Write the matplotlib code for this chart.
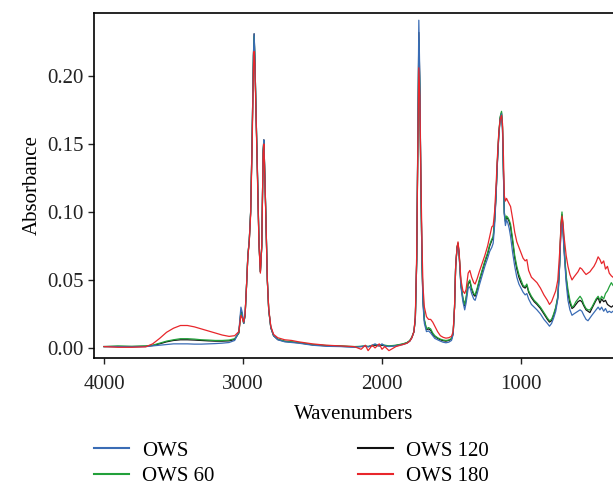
import matplotlib
matplotlib.use("Agg")
import matplotlib.pyplot as plt
from matplotlib.lines import Line2D

# FTIR spectra: wavenumber (cm^-1) and absorbance of each sample
wavenumber = [
    4000, 3900, 3800, 3700, 3650, 3600, 3550, 3500, 3450, 3400,
    3350, 3300, 3250, 3200, 3150, 3100, 3060, 3030, 3015, 3005,
    2995, 2985, 2975, 2965, 2955, 2945, 2935, 2925, 2920, 2915,
    2905, 2895, 2885, 2875, 2865, 2855, 2850, 2845, 2835, 2825,
    2815, 2800, 2780, 2750, 2700, 2650, 2600, 2500, 2400, 2300,
    2200, 2150, 2120, 2100, 2070, 2050, 2020, 2000, 1980, 1950,
    1900, 1850, 1820, 1800, 1785, 1770, 1760, 1750, 1742, 1735,
    1728, 1720, 1712, 1705, 1695, 1680, 1665, 1650, 1635, 1620,
    1600, 1580, 1560, 1540, 1520, 1500, 1488, 1478, 1470, 1460,
    1453, 1445, 1432, 1418, 1405, 1395, 1380, 1368, 1355, 1340,
    1330, 1315, 1300, 1280, 1260, 1240, 1225, 1210, 1200, 1190,
    1180, 1170, 1160, 1150, 1140, 1133, 1126, 1120, 1112, 1104,
    1095, 1085, 1075, 1060, 1045, 1030, 1015, 1000, 985, 970,
    958, 945, 925, 905, 885, 860, 835, 810, 795, 780,
    765, 750, 735, 722, 712, 705, 698, 688, 675, 662,
    648, 633, 620, 605, 590, 575, 562, 548, 532, 518,
    504, 490, 475, 460, 445, 432, 420, 405, 392, 378,
    365, 350, 338,
]

ows = [
    0.001, 0.001, 0.0008, 0.001, 0.0015, 0.002, 0.0025, 0.003, 0.003, 0.003,
    0.0028, 0.0028, 0.003, 0.0032, 0.0035, 0.004, 0.0055, 0.012, 0.030, 0.026,
    0.018, 0.024, 0.045, 0.068, 0.079, 0.100, 0.150, 0.215, 0.231, 0.215,
    0.168, 0.125, 0.077, 0.056, 0.075, 0.145, 0.153, 0.135, 0.095, 0.050,
    0.028, 0.015, 0.009, 0.006, 0.0045, 0.004, 0.0035, 0.002, 0.0012, 0.001,
    0.0005, 0.001, 0.0015, 0.0008, 0.002, 0.003, 0.0015, 0.003, 0.0015, 0.001,
    0.0015, 0.0025, 0.0035, 0.005, 0.0075, 0.012, 0.022, 0.065, 0.160, 0.241,
    0.200, 0.120, 0.062, 0.032, 0.018, 0.012, 0.0125, 0.011, 0.009, 0.007,
    0.006, 0.005, 0.0042, 0.0038, 0.0042, 0.0055, 0.010, 0.030, 0.060, 0.073,
    0.076, 0.068, 0.045, 0.034, 0.028, 0.033, 0.044, 0.045, 0.040, 0.036,
    0.035, 0.040, 0.046, 0.053, 0.060, 0.066, 0.071, 0.074, 0.077, 0.090,
    0.110, 0.135, 0.155, 0.168, 0.172, 0.160, 0.125, 0.098, 0.090, 0.094,
    0.092, 0.088, 0.082, 0.070, 0.060, 0.052, 0.047, 0.044, 0.041, 0.039,
    0.040, 0.036, 0.032, 0.030, 0.028, 0.025, 0.021, 0.018, 0.016, 0.018,
    0.022, 0.027, 0.036, 0.060, 0.088, 0.094, 0.085, 0.068, 0.048, 0.035,
    0.028, 0.024, 0.025, 0.026, 0.027, 0.028, 0.027, 0.024, 0.021, 0.020,
    0.022, 0.024, 0.026, 0.028, 0.030, 0.028, 0.030, 0.027, 0.029, 0.026,
    0.027, 0.026, 0.027,
]

ows_60 = [
    0.001, 0.0015, 0.0012, 0.0015, 0.002, 0.0035, 0.005, 0.006, 0.0068, 0.0068,
    0.0065, 0.006, 0.0058, 0.0055, 0.0055, 0.0058, 0.0068, 0.011, 0.026, 0.023,
    0.018, 0.024, 0.045, 0.068, 0.079, 0.100, 0.150, 0.214, 0.229, 0.214,
    0.168, 0.125, 0.077, 0.056, 0.075, 0.145, 0.152, 0.135, 0.095, 0.050,
    0.028, 0.015, 0.009, 0.0065, 0.005, 0.0045, 0.004, 0.0025, 0.0018, 0.0015,
    0.001, 0.0012, 0.0015, 0.001, 0.002, 0.0025, 0.002, 0.0025, 0.002, 0.0015,
    0.002, 0.003, 0.004, 0.0055, 0.008, 0.012, 0.022, 0.065, 0.155, 0.225,
    0.190, 0.115, 0.062, 0.036, 0.021, 0.014, 0.015, 0.014, 0.011, 0.009,
    0.0075, 0.0065, 0.0058, 0.0055, 0.0058, 0.007, 0.011, 0.030, 0.060, 0.074,
    0.077, 0.069, 0.047, 0.037, 0.032, 0.037, 0.048, 0.050, 0.044, 0.040,
    0.039, 0.044, 0.050, 0.057, 0.064, 0.070, 0.076, 0.080, 0.082, 0.094,
    0.112, 0.137, 0.157, 0.170, 0.174, 0.163, 0.128, 0.100, 0.094, 0.097,
    0.096, 0.094, 0.091, 0.080, 0.068, 0.060, 0.054, 0.050, 0.046, 0.045,
    0.047, 0.042, 0.038, 0.035, 0.033, 0.030, 0.026, 0.022, 0.020, 0.021,
    0.025, 0.030, 0.038, 0.062, 0.092, 0.100, 0.090, 0.072, 0.053, 0.043,
    0.035, 0.030, 0.031, 0.034, 0.036, 0.038, 0.036, 0.032, 0.029, 0.028,
    0.028, 0.030, 0.033, 0.036, 0.038, 0.035, 0.038, 0.036, 0.040, 0.042,
    0.045, 0.048, 0.046,
]

ows_120 = [
    0.001, 0.001, 0.001, 0.0012, 0.0018, 0.003, 0.0045, 0.0055, 0.006, 0.006,
    0.0058, 0.0055, 0.0052, 0.005, 0.005, 0.0052, 0.0062, 0.011, 0.027, 0.024,
    0.018, 0.024, 0.045, 0.068, 0.079, 0.100, 0.150, 0.215, 0.231, 0.215,
    0.168, 0.125, 0.077, 0.056, 0.075, 0.145, 0.153, 0.135, 0.095, 0.050,
    0.028, 0.015, 0.009, 0.0062, 0.0048, 0.0043, 0.0038, 0.0023, 0.0016, 0.0012,
    0.0008, 0.001, 0.0012, 0.001, 0.0015, 0.002, 0.0015, 0.002, 0.0015, 0.0012,
    0.0018, 0.0028, 0.0038, 0.0052, 0.0078, 0.012, 0.022, 0.065, 0.158, 0.232,
    0.195, 0.117, 0.062, 0.034, 0.020, 0.0135, 0.014, 0.013, 0.010, 0.0085,
    0.007, 0.006, 0.0053, 0.005, 0.0055, 0.0065, 0.0105, 0.030, 0.060, 0.074,
    0.077, 0.069, 0.046, 0.036, 0.031, 0.036, 0.047, 0.049, 0.043, 0.039,
    0.038, 0.043, 0.049, 0.056, 0.063, 0.069, 0.075, 0.079, 0.081, 0.093,
    0.111, 0.136, 0.156, 0.169, 0.173, 0.162, 0.127, 0.099, 0.093, 0.096,
    0.095, 0.093, 0.089, 0.078, 0.066, 0.058, 0.052, 0.048, 0.045, 0.044,
    0.046, 0.041, 0.037, 0.034, 0.032, 0.029, 0.025, 0.021, 0.019, 0.020,
    0.024, 0.029, 0.037, 0.061, 0.090, 0.098, 0.088, 0.070, 0.051, 0.040,
    0.033, 0.029, 0.030, 0.032, 0.034, 0.035, 0.034, 0.031, 0.028, 0.027,
    0.026, 0.029, 0.032, 0.035, 0.037, 0.033, 0.036, 0.034, 0.035, 0.032,
    0.031, 0.030, 0.031,
]

ows_180 = [
    0.001, 0.0005, 0.0005, 0.0008, 0.003, 0.007, 0.0115, 0.0145, 0.0165, 0.0165,
    0.0155, 0.014, 0.0125, 0.011, 0.0095, 0.0085, 0.009, 0.012, 0.024, 0.022,
    0.019, 0.025, 0.045, 0.067, 0.078, 0.098, 0.145, 0.205, 0.218, 0.210,
    0.165, 0.122, 0.076, 0.055, 0.075, 0.143, 0.150, 0.133, 0.094, 0.050,
    0.029, 0.016, 0.010, 0.0075, 0.006, 0.0055, 0.0045, 0.003, 0.002, 0.0015,
    0.001, -0.001, 0.002, -0.002, 0.002, 0.000, 0.003, -0.001, 0.001, -0.002,
    0.001, 0.0025, 0.0035, 0.005, 0.0075, 0.012, 0.024, 0.070, 0.150, 0.206,
    0.185, 0.125, 0.075, 0.045, 0.030, 0.023, 0.021, 0.021, 0.019, 0.016,
    0.012, 0.009, 0.0078, 0.0072, 0.0075, 0.0085, 0.012, 0.030, 0.060, 0.074,
    0.078, 0.070, 0.050, 0.042, 0.040, 0.043, 0.055, 0.057, 0.052, 0.048,
    0.047, 0.051, 0.056, 0.062, 0.068, 0.075, 0.082, 0.089, 0.090, 0.100,
    0.118, 0.140, 0.158, 0.168, 0.171, 0.165, 0.140, 0.112, 0.108, 0.110,
    0.108, 0.106, 0.104, 0.095, 0.085, 0.078, 0.074, 0.070, 0.066, 0.064,
    0.065, 0.057, 0.052, 0.050, 0.048, 0.044, 0.039, 0.035, 0.032, 0.034,
    0.038, 0.042, 0.050, 0.070, 0.090, 0.097, 0.092, 0.080, 0.068, 0.060,
    0.054, 0.050, 0.052, 0.054, 0.056, 0.059, 0.058, 0.056, 0.054, 0.055,
    0.056, 0.058, 0.060, 0.063, 0.067, 0.065, 0.062, 0.064, 0.058, 0.060,
    0.055, 0.053, 0.052,
]

series_labels = ["OWS", "OWS 60", "OWS 120", "OWS 180"]
series_colors = ["#3a6cb5", "#22a03a", "#111111", "#e8262b"]
x_ticks = [4000, 3000, 2000, 1000]
y_ticks = [0.00, 0.05, 0.10, 0.15, 0.20]

plt.rcParams["font.family"] = ["Liberation Serif", "DejaVu Serif"]

fig = plt.figure(figsize=(6.13, 4.87), dpi=100)
ax = fig.add_axes([94 / 613, 1 - 358 / 487, 519 / 613, 345 / 487])

values = [ows, ows_60, ows_120, ows_180]
draw_order = [2, 1, 0, 3]
for i in draw_order:
    ax.plot(wavenumber, values[i], color=series_colors[i], lw=0.9,
            label=series_labels[i])

ax.set_xlim(4072, 338)
ax.set_ylim(-0.0074, 0.2463)
ax.set_xticks(x_ticks)
ax.set_yticks(y_ticks)
ax.set_yticklabels([f"{v:.2f}" for v in y_ticks])
ax.tick_params(direction="out", length=4, width=1, labelsize=15,
               colors="#222222")
ax.tick_params(axis="x", pad=8)
for side in ("left", "bottom", "top"):
    ax.spines[side].set_linewidth(1.2)
ax.spines["right"].set_visible(False)

ax.set_xlabel("Wavenumbers", fontsize=15, labelpad=8)
ax.set_ylabel("Absorbance", fontsize=15, labelpad=4)

handles = [Line2D([], [], color=c, lw=1.5) for c in series_colors]
fig.legend(handles, series_labels, ncol=2, frameon=False, fontsize=15,
           loc="upper left", bbox_to_anchor=(94 / 613, 1 - 441 / 487),
           borderpad=0, borderaxespad=0, handlelength=1.7,
           handletextpad=0.6, columnspacing=6.9, labelspacing=0.3)

fig.savefig("out.png", dpi=100)
